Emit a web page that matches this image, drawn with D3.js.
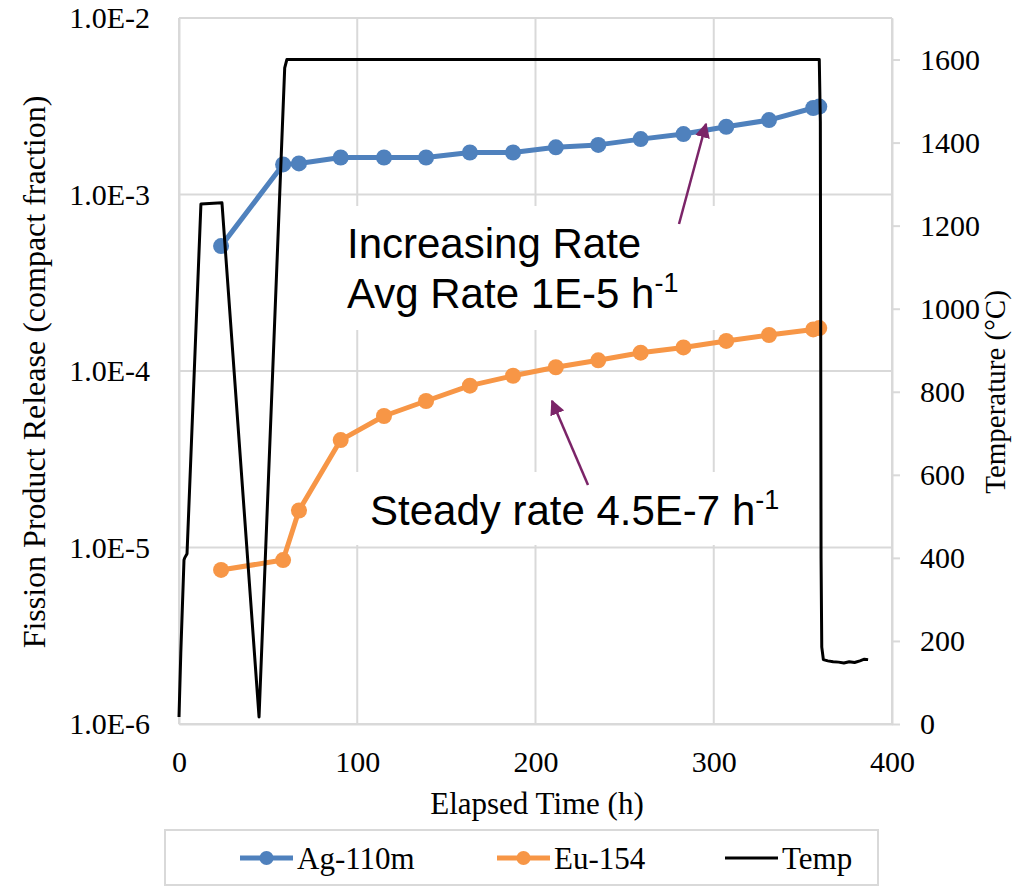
<!DOCTYPE html>
<html>
<head>
<meta charset="utf-8">
<script src="https://cdn.jsdelivr.net/npm/d3@7"></script>
<style>
  body { margin: 0; background: #fff; }
  svg { display: block; }
  .tick text { font-family: "Liberation Serif", "Times New Roman", serif; font-size: 30px; fill: #000; }
  .axis-title { font-family: "Liberation Serif", "Times New Roman", serif; font-size: 29px; fill: #000; }
  .legend-text { font-family: "Liberation Serif", "Times New Roman", serif; font-size: 31px; fill: #000; }
  .note { font-family: "Liberation Sans", Arial, sans-serif; font-size: 42px; fill: #000; }
</style>
</head>
<body>
<div id="chart"></div>
<script>
// Dados
const sampleTimes = [23.6, 58.4, 67.3, 90.7, 115, 138.6, 163.2, 187.4, 211.4, 235.2, 259, 283, 307, 331, 355.8, 359.2];
const agValues = [5.1e-4, 1.48e-3, 1.5e-3, 1.62e-3, 1.62e-3, 1.62e-3, 1.73e-3, 1.73e-3, 1.85e-3, 1.91e-3, 2.06e-3, 2.2e-3, 2.42e-3, 2.64e-3, 3.09e-3, 3.15e-3];
const euValues = [7.46e-6, 8.49e-6, 1.62e-5, 4.06e-5, 5.56e-5, 6.76e-5, 8.26e-5, 9.4e-5, 1.05e-4, 1.15e-4, 1.27e-4, 1.36e-4, 1.48e-4, 1.6e-4, 1.72e-4, 1.75e-4];

// Temperatura do forno (eixo secundário)
const tempTimes = [0, 1, 2.8, 3.2, 4.5, 12.3, 24.1, 44.9, 59.3, 60.5, 100, 200, 300, 359.2, 359.8, 360.2, 360.6, 361.5, 364, 367, 370, 373, 376, 379, 382, 384.5, 386.6];
const tempValues = [17, 170, 395, 400, 410, 1252, 1255, 17, 1580, 1600, 1600, 1600, 1600, 1600, 1450, 400, 185, 155, 152, 150, 149, 147, 150, 148, 152, 156, 155];

const xTicks = [0, 100, 200, 300, 400];
const leftTicks = [1e-6, 1e-5, 1e-4, 1e-3, 1e-2];
const rightTicks = [0, 200, 400, 600, 800, 1000, 1200, 1400, 1600];

const width = 1012, height = 886;
const plot = {left: 179, right: 892, top: 18, bottom: 724};
const gridColor = "#d9d9d9";
const blue = "#4f81bd", orange = "#f79646", purple = "#7b2468";

const svg = d3.select("#chart").append("svg")
  .attr("width", width)
  .attr("height", height);

// Escalas
const x = d3.scaleLinear().domain([0, 400]).range([plot.left, plot.right]);
const yL = d3.scaleLog().domain([1e-6, 1e-2]).range([plot.bottom, plot.top]);
const yR = d3.scaleLinear().domain([0, 1700]).range([plot.bottom, plot.top]);

// Grade
svg.append("g").selectAll("line")
  .data(xTicks)
  .join("line")
  .attr("x1", d => x(d)).attr("x2", d => x(d))
  .attr("y1", plot.top).attr("y2", plot.bottom)
  .attr("stroke", gridColor).attr("stroke-width", 2);

svg.append("g").selectAll("line")
  .data(leftTicks)
  .join("line")
  .attr("x1", plot.left).attr("x2", plot.right)
  .attr("y1", d => yL(d)).attr("y2", d => yL(d))
  .attr("stroke", gridColor).attr("stroke-width", 2);

// Eixos
const xAxis = svg.append("g")
  .attr("transform", `translate(0,${plot.bottom})`)
  .call(d3.axisBottom(x).tickValues(xTicks).tickSize(0).tickPadding(27));
xAxis.select(".domain").attr("stroke", gridColor).attr("stroke-width", 2);

const leftAxis = svg.append("g")
  .attr("transform", `translate(${plot.left},0)`)
  .call(d3.axisLeft(yL).tickValues(leftTicks).tickSize(0).tickPadding(29)
    .tickFormat(d => d.toExponential(1).toUpperCase()));
leftAxis.select(".domain").attr("stroke", gridColor).attr("stroke-width", 2);

const rightAxis = svg.append("g")
  .attr("transform", `translate(${plot.right},0)`)
  .call(d3.axisRight(yR).tickValues(rightTicks).tickSize(8).tickPadding(20).tickSizeOuter(0)
    .tickFormat(d3.format("d")));
rightAxis.select(".domain").attr("stroke", gridColor).attr("stroke-width", 2);
rightAxis.selectAll(".tick line").attr("stroke", gridColor).attr("stroke-width", 2);

// Títulos dos eixos
svg.append("text")
  .attr("class", "axis-title")
  .attr("transform", "translate(45,372) rotate(-90)")
  .attr("text-anchor", "middle")
  .style("font-size", "32px")
  .text("Fission Product Release (compact fraction)");

svg.append("text")
  .attr("class", "axis-title")
  .attr("transform", "translate(1005,392) rotate(-90)")
  .attr("text-anchor", "middle")
  .text("Temperature (°C)");

svg.append("text")
  .attr("class", "axis-title")
  .attr("x", 537).attr("y", 814)
  .attr("text-anchor", "middle")
  .style("font-size", "31px")
  .text("Elapsed Time (h)");

// Caixas brancas das anotações (cobrem a grade)
svg.append("rect").attr("x", 337).attr("y", 206).attr("width", 423).attr("height", 124).attr("fill", "#fff");
svg.append("rect").attr("x", 350).attr("y", 472).attr("width", 440).attr("height", 73).attr("fill", "#fff");

// Séries
const seriesLine = d3.line()
  .x(d => x(d[0]))
  .y(d => yL(d[1]));

function drawSeries(values, color) {
  const pts = sampleTimes.map((t, i) => [t, values[i]]);
  svg.append("path")
    .datum(pts)
    .attr("fill", "none")
    .attr("stroke", color)
    .attr("stroke-width", 5)
    .attr("stroke-linejoin", "round")
    .attr("d", seriesLine);
  svg.append("g").selectAll("circle")
    .data(pts)
    .join("circle")
    .attr("cx", d => x(d[0]))
    .attr("cy", d => yL(d[1]))
    .attr("r", 8)
    .attr("fill", color);
}
drawSeries(agValues, blue);
drawSeries(euValues, orange);

// Temperatura
const tempLine = d3.line()
  .x((d, i) => x(tempTimes[i]))
  .y(d => yR(d));
svg.append("path")
  .datum(tempValues)
  .attr("fill", "none")
  .attr("stroke", "#000")
  .attr("stroke-width", 3)
  .attr("stroke-linejoin", "round")
  .attr("d", tempLine);

// Anotações
svg.append("defs").append("marker")
  .attr("id", "arrow")
  .attr("viewBox", "0 0 10 10")
  .attr("refX", 9).attr("refY", 5)
  .attr("markerWidth", 6).attr("markerHeight", 6)
  .attr("markerUnits", "strokeWidth")
  .attr("orient", "auto")
  .append("path")
  .attr("d", "M0,0 L10,5 L0,10 Z")
  .attr("fill", purple);

function arrow(x1, y1, x2, y2) {
  svg.append("line")
    .attr("x1", x1).attr("y1", y1).attr("x2", x2).attr("y2", y2)
    .attr("stroke", purple).attr("stroke-width", 2.5)
    .attr("marker-end", "url(#arrow)");
}
arrow(679, 224, 706, 124);
arrow(588, 485, 552, 401);

function note(xp, yp, main, sup) {
  const t = svg.append("text").attr("class", "note").attr("x", xp).attr("y", yp);
  t.append("tspan").text(main);
  if (sup) t.append("tspan").attr("dy", -16).attr("font-size", 27).text(sup);
}
note(347, 258, "Increasing Rate");
note(347, 308, "Avg Rate 1E-5 h", "-1");
note(370, 525, "Steady rate 4.5E-7 h", "-1");

// Legenda
const legend = svg.append("g");
legend.append("rect")
  .attr("x", 165).attr("y", 830).attr("width", 713).attr("height", 55)
  .attr("fill", "#fff").attr("stroke", gridColor).attr("stroke-width", 2);

const legendItems = [
  {label: "Ag-110m", color: blue, marker: true, x0: 240},
  {label: "Eu-154", color: orange, marker: true, x0: 497},
  {label: "Temp", color: "#000", marker: false, x0: 725}
];
legendItems.forEach(d => {
  legend.append("line")
    .attr("x1", d.x0).attr("x2", d.x0 + 53)
    .attr("y1", 858).attr("y2", 858)
    .attr("stroke", d.color).attr("stroke-width", d.marker ? 5 : 3);
  if (d.marker) {
    legend.append("circle").attr("cx", d.x0 + 26.5).attr("cy", 858).attr("r", 7).attr("fill", d.color);
  }
  legend.append("text")
    .attr("class", "legend-text")
    .attr("x", d.x0 + 57).attr("y", 869)
    .text(d.label);
});
</script>
</body>
</html>
